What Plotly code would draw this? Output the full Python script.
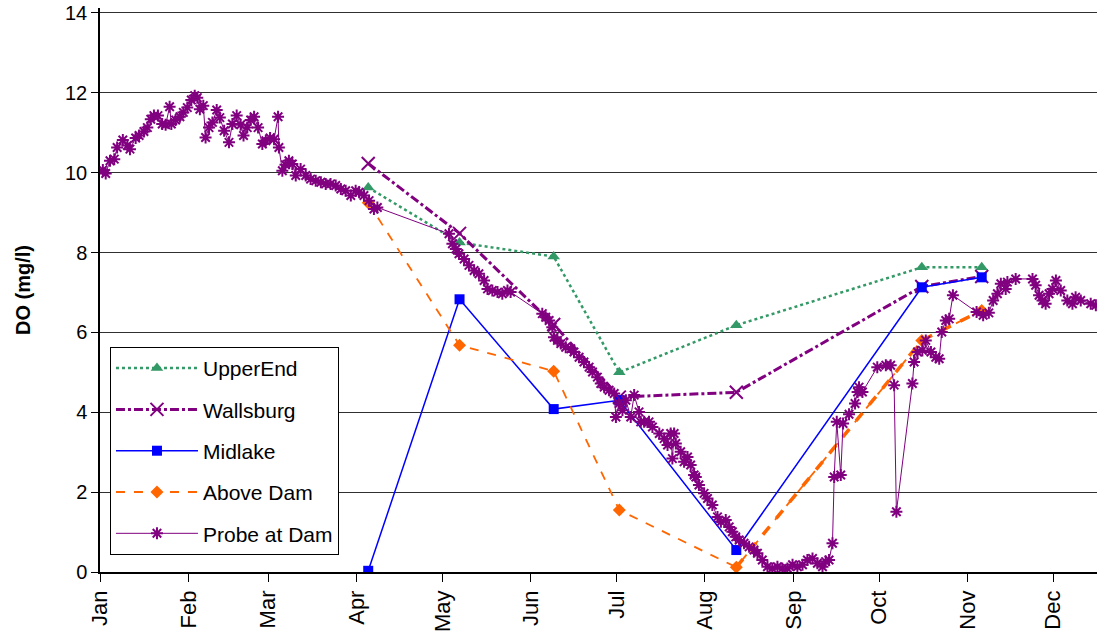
import pandas as pd
import plotly.graph_objects as go

# ---- data ----
sample_dates = ["2001-04-05", "2001-05-07", "2001-06-09", "2001-07-02",
                "2001-08-12", "2001-10-16", "2001-11-06"]
upper_end = [9.63, 8.25, 7.90, 5.00, 6.18, 7.63, 7.63]
wallsburg = [10.23, 8.48, 6.20, 4.38, 4.50, 7.15, 7.40]
midlake = [0.03, 6.83, 4.08, 4.30, 0.55, 7.13, 7.38]
above_dam = [9.25, 5.68, 5.03, 1.55, 0.12, 5.80, 6.55]

probe_days = [1.0, 2.0, 3.5, 5.0, 6.0, 8.0, 9.6, 10.5, 12.5, 13.7, 15.4, 16.6, 17.8, 18.9,
              20.3, 21.8, 23.0, 24.4, 25.0, 26.5, 28.0, 29.2, 30.6, 32.0, 33.2, 34.1, 35.0,
              36.2, 37.0, 38.2, 39.4, 40.9, 42.0, 43.5, 45.2, 46.4, 47.9, 49.3, 50.3, 51.6,
              52.8, 54.0, 55.4, 56.9, 58.1, 59.6, 61.0, 62.4, 62.7, 63.9, 65.0, 66.2, 67.4,
              68.6, 70.3, 72.1, 73.8, 75.6, 77.4, 79.1, 80.8, 82.6, 84.4, 86.1, 87.9, 89.6,
              90.8, 92.5, 94.3, 96.0, 97.2,
              122.3, 123.5, 124.7, 125.8, 127.6, 129.3, 131.1, 132.8, 134.6, 135.8, 137.5,
              139.3, 141.0, 142.8, 143.9, 155.0, 156.2, 157.4, 158.5, 159.1, 160.3, 161.5,
              163.2, 165.0, 166.1, 167.9, 169.6, 171.4, 172.6, 174.3, 175.5, 176.7, 178.4,
              180.2, 180.8, 181.9, 183.1, 184.3, 186.0, 187.2, 188.9, 189.5, 190.7, 192.4,
              193.6, 196.0, 197.7, 198.9, 200.0, 200.6, 201.2, 201.8, 203.5, 204.7, 205.9,
              207.0, 208.2, 208.8, 209.9, 211.7, 212.9, 214.6, 216.4, 217.6, 219.3, 220.5,
              221.6, 222.8, 224.0, 225.7, 227.5, 229.2, 230.4, 232.1, 233.9, 235.6, 237.4,
              239.1, 240.9, 242.7, 244.4, 246.2, 247.9, 249.7, 251.4, 253.2, 254.3, 255.5,
              256.7, 257.3, 258.2, 259.6, 260.4, 262.5, 264.6, 265.5, 266.0, 267.2, 272.4,
              275.4, 277.1, 278.3, 279.1, 284.7, 285.3, 286.5, 288.2, 289.4, 291.2, 292.9,
              294.1, 295.0, 296.4, 297.6, 298.9, 307.2, 309.5, 311.5, 313.0, 314.5, 315.7,
              317.4, 318.0, 320.9, 326.8, 327.9, 329.1, 330.3, 331.4, 332.6, 333.8, 335.0,
              336.7, 339.0, 340.8, 341.9, 343.7, 347.2, 349.0]
probe_vals = [10.07, 9.98, 10.30, 10.34, 10.63, 10.82, 10.68, 10.59, 10.87, 10.93, 11.03, 11.13,
              11.34, 11.43, 11.43, 11.22, 11.20, 11.65, 11.22, 11.32, 11.40, 11.51, 11.63,
              11.82, 11.93, 11.88, 11.59, 11.68, 10.88, 11.13, 11.26, 11.57, 11.38, 11.05,
              10.76, 11.22, 11.43, 11.20, 10.93, 11.13, 11.32, 11.40, 11.13, 10.72, 10.80,
              10.87, 10.84, 11.40, 10.63, 10.05, 10.20, 10.30, 10.22, 9.93, 10.09, 9.93, 9.84,
              9.80, 9.76, 9.72, 9.72, 9.68, 9.59, 9.55, 9.43, 9.55, 9.51, 9.43, 9.30, 9.09, 9.13,
              8.47, 8.22, 8.09, 7.97, 7.84, 7.68, 7.55, 7.47, 7.30, 7.09, 7.05, 7.01, 6.97,
              7.05, 7.01, 6.47, 6.38, 6.30, 6.13, 5.88, 5.80, 5.72, 5.63, 5.59, 5.51, 5.38,
              5.26, 5.13, 5.01, 4.88, 4.72, 4.63, 4.55, 4.47, 3.88, 4.22, 4.05, 4.30, 3.88,
              4.43, 4.01, 3.76, 3.76, 3.76, 3.63, 3.47, 3.34, 3.18, 3.47, 2.84, 3.47, 3.22,
              3.01, 2.76, 2.88, 2.68, 2.43, 2.38, 2.18, 1.97, 1.84, 1.68, 1.38, 1.26, 1.30,
              1.13, 1.01, 0.88, 0.80, 0.72, 0.63, 0.55, 0.47, 0.30, 0.13, 0.09, 0.13, 0.09,
              0.09, 0.18, 0.13, 0.18, 0.30, 0.34, 0.22, 0.13, 0.26, 0.30, 0.72, 2.38, 3.76,
              2.43, 3.72, 3.95, 4.22, 4.51, 4.63, 4.51, 5.13, 5.18, 5.18, 4.68, 1.51, 4.72,
              5.26, 5.51, 5.55, 5.80, 5.51, 5.38, 5.34, 6.01, 6.30, 6.34, 6.93, 6.51, 6.43,
              6.49, 6.80, 6.97, 7.22, 7.09, 7.26, 7.34, 7.34, 7.18, 6.93, 6.80, 6.72, 6.97,
              7.09, 7.30, 7.05, 6.80, 6.72, 6.88, 6.80, 6.72, 6.68]

month_ticks = ["2001-01-01", "2001-02-01", "2001-03-01", "2001-04-01", "2001-05-01",
               "2001-06-01", "2001-07-01", "2001-08-01", "2001-09-01", "2001-10-01",
               "2001-11-01", "2001-12-01"]
month_labels = ["Jan", "Feb", "Mar", "Apr", "May", "Jun", "Jul", "Aug", "Sep", "Oct",
                "Nov", "Dec"]
y_ticks = [0, 2, 4, 6, 8, 10, 12, 14]

# ---- build ----
start = pd.Timestamp("2001-01-01")
probe_dates = [start + pd.Timedelta(days=d) for d in probe_days]
sd = pd.to_datetime(sample_dates)

FONT = "Arial, Liberation Sans, sans-serif"
PURPLE = "#800080"

fig = go.Figure()

fig.add_trace(go.Scatter(
    x=sd, y=upper_end, name="UpperEnd", mode="lines+markers", legendgroup="a",
    line=dict(color="#339966", width=2.5, dash="dot"),
    marker=dict(symbol="triangle-up", size=11, color="#339966")))

fig.add_trace(go.Scatter(
    x=sd, y=wallsburg, name="Wallsburg", mode="lines+markers", legendgroup="b",
    line=dict(color=PURPLE, width=3, dash="dashdot"),
    marker=dict(symbol="x-thin-open", size=13, color=PURPLE,
                line=dict(width=2, color=PURPLE))))

fig.add_trace(go.Scatter(
    x=sd, y=midlake, name="Midlake", mode="lines+markers", legendgroup="c",
    line=dict(color="#0000FF", width=1.5),
    marker=dict(symbol="square", size=10, color="#0000FF")))

# thick late-season part of the Above Dam line (same data, slice)
fig.add_trace(go.Scatter(
    x=sd[4:], y=above_dam[4:], mode="lines", showlegend=False, hoverinfo="skip",
    legendgroup="d",
    line=dict(color="#FF6600", width=3.5, dash="dash")))

fig.add_trace(go.Scatter(
    x=sd, y=above_dam, name="Above Dam", mode="lines+markers", legendgroup="d",
    line=dict(color="#FF6600", width=1.8, dash="dash"),
    marker=dict(symbol="diamond", size=10, color="#FF6600")))

fig.add_trace(go.Scatter(
    x=probe_dates, y=probe_vals, name="Probe at Dam", mode="lines+markers",
    legendgroup="e",
    line=dict(color=PURPLE, width=1),
    marker=dict(symbol="asterisk-open", size=10, color=PURPLE,
                line=dict(width=2, color=PURPLE))))

fig.update_layout(
    width=1097, height=642,
    margin=dict(l=100, r=0, t=8, b=70),
    paper_bgcolor="white", plot_bgcolor="white",
    font=dict(family=FONT, size=20, color="black"),
    showlegend=True,
    legend=dict(
        x=0.01, y=0.399, xanchor="left", yanchor="top",
        bgcolor="white", bordercolor="black", borderwidth=1,
        font=dict(family=FONT, size=21, color="black"),
        tracegroupgap=11, itemwidth=82, traceorder="grouped",
    ),
)

fig.update_xaxes(
    type="date",
    range=[start, start + pd.Timedelta(days=349.4)],
    tickmode="array", tickvals=month_ticks, ticktext=month_labels,
    tickangle=-90, ticks="outside", ticklen=8, tickcolor="black",
    showline=True, linecolor="black", linewidth=1.5,
    showgrid=False, zeroline=False,
    tickfont=dict(family=FONT, size=22),
)

fig.update_yaxes(
    range=[0, 14.125], tickvals=y_ticks,
    ticks="outside", ticklen=7, tickcolor="black",
    showline=True, linecolor="black", linewidth=1.5,
    showgrid=True, gridcolor="#303030", gridwidth=1,
    zeroline=False,
    tickfont=dict(family=FONT, size=20),
    title=dict(text="<b>DO (mg/l)</b>", font=dict(family=FONT, size=20), standoff=29),
)

fig.write_html("out.html", config={"displayModeBar": False},
               post_script="document.body.style.margin='0px';")
